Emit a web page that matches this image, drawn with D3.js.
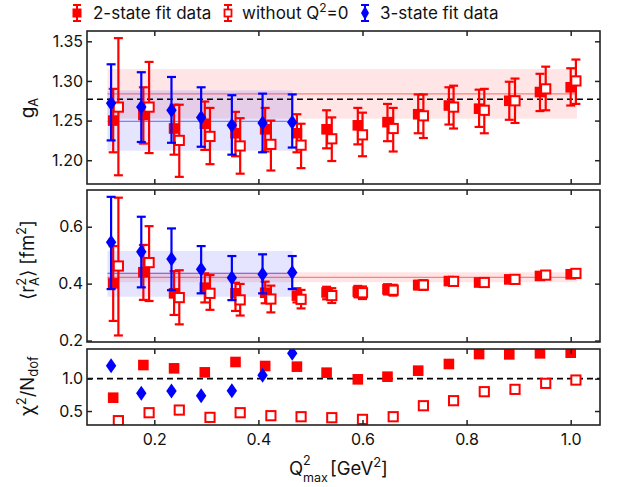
<!DOCTYPE html>
<html><head><meta charset="utf-8">
<script src="https://cdn.jsdelivr.net/npm/d3@7"></script>
<style>body{margin:0;background:#fff}svg{display:block;font-family:Inter,"Noto Sans",sans-serif}</style>
</head><body><svg id="c" width="630" height="487"></svg>
<script>
// ---------- DATA ----------
const qFilled = [0.121,0.179,0.238,0.297,0.356,0.413,0.474,0.531,0.591,0.648,0.707,0.766,0.824,0.882,0.941,1.000];
const qOpen   = [0.131,0.190,0.248,0.307,0.365,0.424,0.482,0.541,0.600,0.659,0.717,0.775,0.834,0.893,0.952,1.010];
const qBlue   = [0.117,0.175,0.233,0.290,0.349,0.408,0.465];

// gA
const gaFilled    = [1.250,1.257,1.240,1.246,1.234,1.239,1.234,1.239,1.244,1.248,1.258,1.269,1.265,1.275,1.286,1.292];
const gaFilledLo  = [1.210,1.221,1.207,1.213,1.205,1.211,1.210,1.215,1.220,1.224,1.234,1.245,1.242,1.251,1.262,1.269];
const gaFilledHi  = [1.290,1.292,1.270,1.274,1.261,1.266,1.258,1.263,1.266,1.271,1.283,1.292,1.289,1.299,1.309,1.316];
const gaOpen      = [1.267,1.267,1.225,1.230,1.218,1.220,1.219,1.227,1.232,1.240,1.256,1.267,1.263,1.275,1.290,1.300];
const gaOpenLo    = [1.181,1.209,1.179,1.195,1.183,1.187,1.190,1.199,1.205,1.211,1.228,1.240,1.234,1.247,1.263,1.271];
const gaOpenHi    = [1.354,1.324,1.270,1.266,1.253,1.250,1.246,1.254,1.260,1.266,1.283,1.294,1.290,1.303,1.318,1.327];
const gaBlue      = [1.272,1.267,1.263,1.254,1.244,1.247,1.248];
const gaBlueLo    = [1.225,1.223,1.222,1.217,1.207,1.210,1.216];
const gaBlueHi    = [1.321,1.311,1.305,1.292,1.282,1.284,1.283];
const gaBandRed   = [0.110,1.012,1.2525,1.2836,1.315];   // x0,x1,lo,mid,hi
const gaBandBlue  = [0.110,0.466,1.212,1.249,1.288];
const gaRef = 1.2769;

// <r_A^2>
const rFilled   = [0.401,0.440,0.366,0.386,0.366,0.368,0.358,0.369,0.372,0.380,0.395,0.409,0.404,0.415,0.427,0.433];
const rFilledLo = [0.269,0.343,0.290,0.334,0.304,0.331,0.334,0.345,0.352,0.362,0.380,0.396,0.392,0.404,0.417,0.424];
const rFilledHi = [0.532,0.536,0.444,0.436,0.403,0.407,0.384,0.389,0.392,0.398,0.410,0.422,0.416,0.426,0.437,0.442];
const rOpen     = [0.462,0.474,0.351,0.366,0.343,0.346,0.345,0.358,0.368,0.377,0.395,0.408,0.404,0.415,0.430,0.436];
const rOpenLo   = [0.218,0.339,0.257,0.308,0.288,0.299,0.313,0.332,0.346,0.358,0.378,0.394,0.390,0.403,0.418,0.425];
const rOpenHi   = [0.702,0.602,0.447,0.430,0.399,0.393,0.378,0.384,0.390,0.396,0.412,0.422,0.418,0.427,0.442,0.447];
const rBlue     = [0.545,0.512,0.487,0.451,0.421,0.433,0.439];
const rBlueLo   = [0.381,0.387,0.377,0.366,0.342,0.366,0.381];
const rBlueHi   = [0.705,0.635,0.594,0.532,0.497,0.503,0.497];
const rBandRed  = [0.110,1.012,0.405,0.422,0.440];
const rBandBlue = [0.110,0.466,0.354,0.436,0.515];

// chi2/Ndof
const cFilled = [0.706,1.211,1.160,1.098,1.258,1.196,1.186,1.093,0.990,1.031,1.124,1.227,1.381,1.376,1.392,1.402];
const cOpen   = [0.351,0.474,0.515,0.402,0.474,0.428,0.412,0.397,0.371,0.412,0.582,0.660,0.799,0.835,0.928,0.979];
const cBlue   = [1.201,0.773,0.809,0.737,0.814,1.052,1.392];
const cRef = 1.0;

// ticks
const xTicks = [0.2,0.4,0.6,0.8,1.0];
const xTickLabels = ["0.2","0.4","0.6","0.8","1.0"];
const gaTicks = [1.20,1.25,1.30,1.35];
const rTicks = [0.2,0.4,0.6];
const cTicks = [0.5,1.0];
const legendLabels = ["2-state fit data","without Q","3-state fit data"];

// ---------- DRAW ----------
const svg = d3.select("#c");
const RED = "#ff0000", BLUE = "#0000ff", AX = "#222";
const x = d3.scaleLinear().domain([0.0707,1.0563]).range([87,600]);

const panels = [
  {top:31, bottom:184, dom:[1.170,1.363], ticks:gaTicks, fmt:d3.format(".2f"), key:"ga"},
  {top:190, bottom:342, dom:[0.195,0.729], ticks:rTicks, fmt:d3.format(".1f"), key:"r"},
  {top:349, bottom:425, dom:[0.284,1.459], ticks:cTicks, fmt:d3.format(".1f"), key:"c"}
];
panels.forEach(p => p.y = d3.scaleLinear().domain(p.dom).range([p.bottom,p.top]));

function clip(id,p){
  svg.append("clipPath").attr("id",id).append("rect")
    .attr("x",87).attr("y",p.top).attr("width",513).attr("height",p.bottom-p.top);
}
panels.forEach((p,i)=>clip("cp"+i,p));

function band(g,p,b,color,fill,op){
  g.append("rect").attr("x",x(b[0])).attr("width",x(b[1])-x(b[0]))
    .attr("y",p.y(b[4])).attr("height",p.y(b[2])-p.y(b[4]))
    .attr("fill",fill).attr("fill-opacity",op);
  g.append("line").attr("x1",x(b[0])).attr("x2",x(b[1]))
    .attr("y1",p.y(b[3])).attr("y2",p.y(b[3])).attr("stroke",color).attr("stroke-opacity",0.45).attr("stroke-width",1.3);
}
function refLine(g,p,v){
  g.append("line").attr("x1",87).attr("x2",600).attr("y1",p.y(v)).attr("y2",p.y(v))
    .attr("stroke","#000").attr("stroke-width",1.7).attr("stroke-dasharray","6,4");
}
function errbars(g,p,xs,lo,hi,color){
  xs.forEach((q,i)=>{
    const cx=x(q);
    g.append("line").attr("x1",cx).attr("x2",cx).attr("y1",p.y(lo[i])).attr("y2",p.y(hi[i])).attr("stroke",color).attr("stroke-width",2.2);
    [lo[i],hi[i]].forEach(v=>g.append("line").attr("x1",cx-4.5).attr("x2",cx+4.5).attr("y1",p.y(v)).attr("y2",p.y(v)).attr("stroke",color).attr("stroke-width",2.2));
  });
}
function squares(g,p,xs,vs,filled){
  xs.forEach((q,i)=>{
    const cx=x(q), cy=p.y(vs[i]);
    if(filled) g.append("rect").attr("x",cx-5.3).attr("y",cy-5.3).attr("width",10.6).attr("height",10.6).attr("fill",RED);
    else g.append("rect").attr("x",cx-4.6).attr("y",cy-4.6).attr("width",9.2).attr("height",9.2).attr("fill","#fff").attr("stroke",RED).attr("stroke-width",2);
  });
}
function diamonds(g,p,xs,vs){
  xs.forEach((q,i)=>{
    const cx=x(q), cy=p.y(vs[i]);
    g.append("path").attr("d",`M${cx},${cy-7.5}L${cx+5.2},${cy}L${cx},${cy+7.5}L${cx-5.2},${cy}Z`).attr("fill",BLUE);
  });
}

const data = {
  ga:{bands:[gaBandRed,gaBandBlue], ref:gaRef,
      f:[gaFilled,gaFilledLo,gaFilledHi], o:[gaOpen,gaOpenLo,gaOpenHi], b:[gaBlue,gaBlueLo,gaBlueHi]},
  r:{bands:[rBandRed,rBandBlue], ref:null,
      f:[rFilled,rFilledLo,rFilledHi], o:[rOpen,rOpenLo,rOpenHi], b:[rBlue,rBlueLo,rBlueHi]},
  c:{bands:null, ref:cRef, f:[cFilled], o:[cOpen], b:[cBlue]}
};

panels.forEach((p,i)=>{
  const d=data[p.key];
  const g=svg.append("g").attr("clip-path",`url(#cp${i})`);
  if(d.bands){
    band(g,p,d.bands[0],RED,"#ff0000",0.1);
    band(g,p,d.bands[1],BLUE,"#0000ff",0.1);
  }
  if(d.ref!==null) refLine(g,p,d.ref);
  if(d.f.length>1){
    errbars(g,p,qFilled,d.f[1],d.f[2],RED);
    squares(g,p,qFilled,d.f[0],true);
    errbars(g,p,qOpen,d.o[1],d.o[2],RED);
    squares(g,p,qOpen,d.o[0],false);
    errbars(g,p,qBlue,d.b[1],d.b[2],BLUE);
  } else {
    squares(g,p,qFilled,d.f[0],true);
    squares(g,p,qOpen,d.o[0],false);
  }
  diamonds(g,p,qBlue,d.b[0]);

  // axes: inward ticks on all sides
  const ax=svg.append("g").attr("color",AX);
  ax.append("g").attr("transform",`translate(0,${p.bottom})`)
    .call(d3.axisBottom(x).tickValues(xTicks).tickSizeInner(-5).tickSizeOuter(0).tickFormat((t,j)=> i===2?xTickLabels[j]:""));
  ax.append("g").attr("transform",`translate(0,${p.top})`)
    .call(d3.axisTop(x).tickValues(xTicks).tickSizeInner(-5).tickSizeOuter(0).tickFormat(""));
  ax.append("g").attr("transform",`translate(87,0)`)
    .call(d3.axisLeft(p.y).tickValues(p.ticks).tickSizeInner(-5).tickSizeOuter(0).tickFormat(p.fmt));
  ax.append("g").attr("transform",`translate(600,0)`)
    .call(d3.axisRight(p.y).tickValues(p.ticks).tickSizeInner(-5).tickSizeOuter(0).tickFormat(""));
  ax.selectAll(".domain").remove();
  ax.selectAll(".tick line").attr("stroke-width",1.5);
  ax.selectAll(".tick text").attr("font-size",16).attr("fill","#111").attr("font-family","Inter,sans-serif");
  svg.append("rect").attr("x",87).attr("y",p.top).attr("width",513).attr("height",p.bottom-p.top)
    .attr("fill","none").attr("stroke",AX).attr("stroke-width",1.6);
});
// adjust tick label padding
svg.selectAll(".tick text").each(function(){
  const t=d3.select(this);
  if(t.attr("x")!==null && +t.attr("x")<0) t.attr("x",-4);
  if(t.attr("y")!==null && +t.attr("y")>0) t.attr("y",9);
});

// axis titles
const fs=18.5, sfs=13;
const t1=svg.append("text").attr("transform","translate(34,108) rotate(-90)").attr("text-anchor","middle").attr("font-size",19).attr("fill","#111");
t1.append("tspan").text("g");
t1.append("tspan").attr("dy",4).attr("font-size",sfs).text("A");

const t2=svg.append("text").attr("transform","translate(34,260) rotate(-90)").attr("text-anchor","middle").attr("font-size",fs).attr("fill","#111");
t2.append("tspan").text("⟨r");
t2.append("tspan").attr("dy",-8).attr("font-size",sfs).text("2");
t2.append("tspan").attr("dx",-8).attr("dy",13).attr("font-size",sfs).text("A");
t2.append("tspan").attr("dy",-5).text("⟩ [fm");
t2.append("tspan").attr("dy",-8).attr("font-size",sfs).text("2");
t2.append("tspan").attr("dy",8).text("]");

const t3=svg.append("text").attr("transform","translate(34,386) rotate(-90)").attr("text-anchor","middle").attr("font-size",fs).attr("fill","#111");
t3.append("tspan").text("χ");
t3.append("tspan").attr("dy",-8).attr("font-size",sfs).text("2");
t3.append("tspan").attr("dy",8).text("/N");
t3.append("tspan").attr("dy",4).attr("font-size",sfs).text("dof");

// x-axis title built from separate pieces (stacked super/subscript)
const xl=svg.append("g").attr("font-size",fs).attr("fill","#111");
xl.append("text").attr("x",289).attr("y",475).text("Q");
xl.append("text").attr("x",303).attr("y",465).attr("font-size",12.5).text("2");
xl.append("text").attr("x",303).attr("y",482).attr("font-size",12.5).text("max");
const xr=xl.append("text").attr("x",330).attr("y",475);
xr.append("tspan").text(" [GeV");
xr.append("tspan").attr("dy",-8).attr("font-size",sfs).text("2");
xr.append("tspan").attr("dy",8).text("]");

// legend
const lg=svg.append("g");
function legErr(cx,color){
  lg.append("line").attr("x1",cx).attr("x2",cx).attr("y1",5).attr("y2",21).attr("stroke",color).attr("stroke-width",2);
  [5,21].forEach(v=>lg.append("line").attr("x1",cx-4).attr("x2",cx+4).attr("y1",v).attr("y2",v).attr("stroke",color).attr("stroke-width",2));
}
legErr(77,RED); lg.append("rect").attr("x",72.5).attr("y",8.5).attr("width",9).attr("height",9).attr("fill",RED);
legErr(228,RED); lg.append("rect").attr("x",224.5).attr("y",9.5).attr("width",7).attr("height",7).attr("fill","#fff").attr("stroke",RED).attr("stroke-width",1.8);
legErr(365,BLUE); lg.append("path").attr("d","M365,6L369,13L365,20L361,13Z").attr("fill",BLUE);
const ltxt=(xx)=>lg.append("text").attr("x",xx).attr("y",19).attr("font-size",17).attr("fill","#111");
ltxt(93).text(legendLabels[0]);
const l2=ltxt(242); l2.append("tspan").text("without Q"); l2.append("tspan").attr("dy",-7).attr("font-size",12).text("2"); l2.append("tspan").attr("dy",7).text("=0");
ltxt(380).text(legendLabels[2]);
</script></body></html>
